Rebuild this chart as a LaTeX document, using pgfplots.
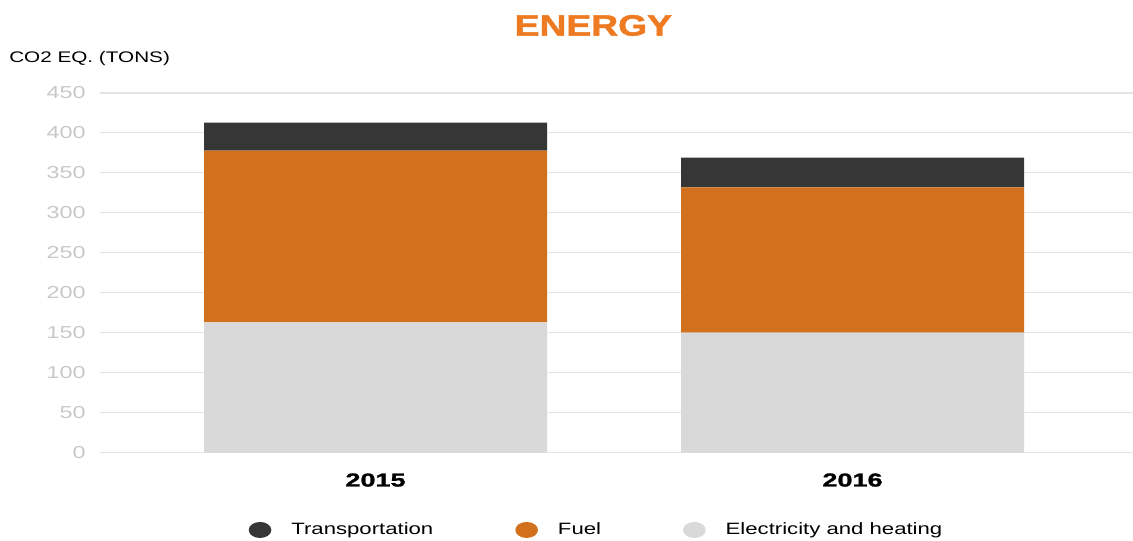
\documentclass[border=0pt]{standalone}
\usepackage{pgfplots}
\pgfplotsset{compat=1.18}
\usepackage{fontspec}
\setmainfont{Liberation Sans}[FakeStretch=1.35]
\newfontfamily\heavyfont{Liberation Sans}[FakeStretch=1.45, BoldFeatures={FakeBold=1.3}]
\newfontfamily\titlefont{Liberation Sans}[FakeStretch=1.27, BoldFeatures={FakeBold=1.6}]
\definecolor{transp}{HTML}{363636}
\definecolor{fuel}{HTML}{D2711D}
\definecolor{elec}{HTML}{D9D9D9}
\definecolor{gridgray}{HTML}{E4E4E4}
\definecolor{tickgray}{HTML}{C8C8C8}
\definecolor{titleorange}{HTML}{EE7A22}
\begin{document}
\begin{tikzpicture}[x=1pt,y=1pt]
\useasboundingbox (0,0) rectangle (849.75,405);
\begin{axis}[
  at={(75pt,65.625pt)}, anchor=south west, scale only axis,
  width=774.75pt, height=269.625pt,
  ybar stacked, bar width=257.25pt,
  xmin=-0.5776, xmax=1.588, ymin=0, ymax=450,
  xtick={0,1}, xticklabels={2015,2016},
  ytick={0,50,...,450},
  axis line style={draw=none}, tick style={draw=none}, major tick length=0pt,
  ymajorgrids, grid style={draw=gridgray, line width=0.8pt},
  /pgf/number format/assume math mode=true,
  yticklabel style={text=tickgray, font=\fontsize{13}{15}\selectfont, inner sep=0pt, xshift=-10.5pt},
  xticklabel style={font=\heavyfont\bfseries\fontsize{14}{16}\selectfont, inner sep=0pt, anchor=north, yshift=-15.5pt},
  legend image code/.code={\fill[#1] (0pt,0pt) ellipse [x radius=8.5pt, y radius=6pt];},
  reverse legend,
  legend columns=-1,
  legend style={at={(0.1437,-0.2155)}, anchor=west, draw=none, inner sep=0pt,
    font=\fontsize{12.3}{14}\selectfont,
    nodes={inner xsep=0pt},
    /tikz/every odd column/.append style={column sep=15pt},
    /tikz/every even column/.append style={column sep=61.5pt}},
]
\addplot[fill=elec, draw=none] coordinates {(0,163) (1,150)};
\addplot[fill=fuel, draw=none] coordinates {(0,215) (1,182)};
\addplot[fill=transp, draw=none] coordinates {(0,35) (1,37)};
\legend{Electricity and heating, Fuel, Transportation}
\end{axis}
\node[text=titleorange, font=\titlefont\bfseries\fontsize{22}{24}\selectfont, inner sep=0pt] at (445,385.9) {ENERGY};
\node[anchor=base west, inner sep=0pt, font=\fontsize{11.5}{13}\selectfont] at (6.75,358) {CO2 EQ. (TONS)};
\end{tikzpicture}
\end{document}
